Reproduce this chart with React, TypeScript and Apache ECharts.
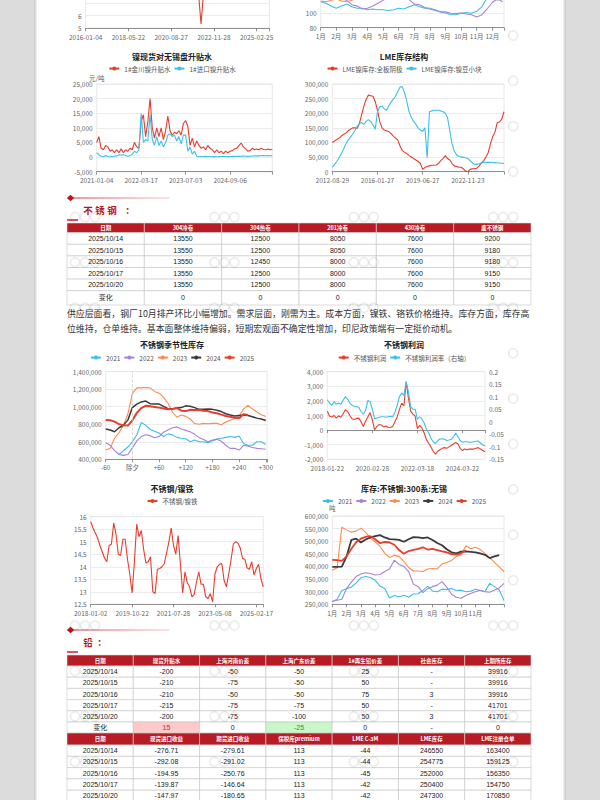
import React, { useEffect, useRef } from 'react';
import * as echarts from 'echarts';

const FONT = '"Noto Sans CJK SC", "Noto Sans", sans-serif';
const NUM_FONT = 'Arial, "Liberation Sans", "Noto Sans CJK SC", sans-serif';
const C_RED = '#e83d2c';
const C_CYAN = '#3ac0ea';
const C_PURPLE = '#a882d8';
const C_ORANGE = '#ff8a4c';
const C_BLACK = '#3a3a3a';
const AXIS = '#777777';
const LABEL = '#666666';
const SPLIT = '#e6e6e6';
const X_MARGIN = 5;

// ---------- chart A (top-left, cut off) ----------
const aTicks = ['2016-01-04', '2018-05-22', '2020-08-27', '2022-11-28', '2025-02-25'];
const aValues = [8.6, 8.9, 9.2, 8.8, 8.4, 8.1, 7.9, 8.3, 8.7, 9.0,
  9.4, 9.1, 8.8, 8.5, 8.2, 8.0, 8.4, 8.9, 9.3, 9.6,
  9.2, 8.8, 8.5, 8.1, 7.8, 8.2, 9.4, 5.35, 9.6, 9.4,
  9.8, 9.5, 9.1, 8.7, 8.4, 8.8, 9.2, 9.0, 8.6, 8.3,
  8.0, 8.2, 8.5, 8.4];

// ---------- chart B (top-right, cut off; x in months, 1/3 month steps) ----------
const bSeries2021 = [116, 114, 110, 107, 110, 113, 109, 107, 107, 105, 106, 105, 105, 104, 105, 107, 106, 109, 112, 109, 107, 106, 104, 102, 100.5, 98, 98, 100, 101, 100, 103, 109, 122, 128, 118, 122];
const bSeries2022 = [130, 128, 125, 122, 120, 118, 112, 110, 106, 107, 110, 114, 118, 122, 125, 124, 122, 119, 113, 112, 108, 107, 105, 102, 102, 100, 99.5, 100.5, 99, 98, 95, 98, 106, 115, 120, 116];
const bSeries2023 = [117, 116, 118, 120, 117, 116, 118, 122, 126, 128, 130, 132, 135, 138, 140, 138, 136, 135, 133, 130, 128, 127, 126, 128, 130, 132, 130, 128, 126, 125, 127, 130, 133, 136, 140, 142];

// ---------- chart C: 镍现货对无锡盘升贴水 ----------
const cTicks = ['2021-01-04', '2022-03-17', '2023-07-03', '2024-09-06'];
const cJinchuan = [5000, 7000, 3000, 2500, 4000, 3500, 2000, 2500, 1500, 2500, 1500, 2800, 1500, 2500, 2000, 3000, 2500, 5000, 3500, 3000,
  12000, 14500, 7000, 12000, 20000, 10000, 6500, 10000, 7000, 10000, 6000, 9000, 14000, 9000, 7500, 8500, 8000, 9000, 7500, 11500,
  12500, 10500, 4000, 6500, 3500, 5500, 4000, 3000, 3500, 2500, 4000, 3000, 2500, 1500, 2500, 1500, 2000, 1200, 2000, 1500,
  2000, 2200, 2800, 3000, 4000, 4800, 3500, 2800, 2000, 2200, 3000, 2500, 2800, 2500, 3000, 2600, 2500, 2800, 2500, 2600];
const cImport = [1500, 800, 300, 200, 500, 200, 100, 200, 300, 400, 800, 600, 900, 500, 300, 500, 1000, 2000, 1500, 2500,
  15000, 5000, 6000, 5500, 14500, 6000, 4000, 7000, 4000, 5500, 3500, 5000, 7500, 8000, 7000, 7500, 5500, 7000, 4500, 7500,
  7500, 2000, 3500, 1000, 2000, 300, 200, 100, 200, 300, 200, 100, 150, 200, 100, 150, 200, 250, 200, 150,
  200, 250, 300, 200, 250, 300, 350, 300, 250, 300, 350, 400, 450, 400, 450, 500, 450, 500, 450, 500];

// ---------- chart D: LME库存结构 ----------
const dTicks = ['2012-08-29', '2016-01-27', '2019-06-27', '2022-11-23'];
const dCathode = [100000, 105000, 110000, 115000, 122000, 127000, 132000, 140000, 145000, 150000,
  150000, 148000, 165000, 195000, 225000, 248000, 262000, 260000, 258000, 240000,
  210000, 172000, 150000, 143000, 140000, 137000, 130000, 122000, 115000, 108000,
  88000, 72000, 66000, 62000, 55000, 50000, 45000, 40000, 35000, 28000,
  8000, 15000, 18000, 20000, 22000, 22000, 23000, 28000, 38000, 45000,
  55000, 45000, 40000, 28000, 20000, 18000, 15000, 15000, 10000, 2000,
  0, 8000, 10000, 10000, 12000, 20000, 30000, 38000, 50000, 65000,
  95000, 120000, 135000, 168000, 170000, 180000, 205000];
const dBriquette = [15000, 25000, 35000, 48000, 62000, 78000, 95000, 108000, 118000, 128000,
  140000, 155000, 165000, 168000, 162000, 172000, 178000, 172000, 160000, 145000,
  205000, 222000, 225000, 215000, 210000, 225000, 238000, 248000, 258000, 275000,
  290000, 290000, 270000, 240000, 205000, 185000, 172000, 162000, 150000, 142000,
  138000, 150000, 48000, 205000, 208000, 210000, 210000, 210000, 208000, 205000,
  200000, 185000, 140000, 95000, 70000, 58000, 52000, 50000, 50000, 48000,
  45000, 38000, 30000, 25000, 25000, 27000, 30000, 32000, 32000, 32000,
  32000, 31000, 31000, 30000, 30000, 29000, 28000];

// ---------- chart E: 不锈钢季节性库存 (days from 除夕) ----------
const eDays = [-60, -50, -40, -30, -20, -10, 0, 10, 20, 30, 40, 50, 60, 70, 80, 90, 100, 110, 120, 130, 140, 150, 160, 170, 180, 190, 200, 210, 220, 230, 240, 250, 260, 270, 280, 290, 300];
const e2021 = [null, null, null, 455000, 500000, 540000, 600000, 680000, 820000, 790000, 740000, 720000, 700000, 660000, 690000, 680000, 650000, 640000, 635000, 600000, 620000, 600000, 600000, 590000, 610000, 630000, 640000, 650000, 660000, 650000, 665000, 580000, 560000, 560000, 600000, 600000, 570000];
const e2022 = [590000, 560000, 500000, 455000, 445000, 455000, 530000, 610000, 660000, 680000, 670000, 645000, 660000, 710000, 735000, 760000, 770000, 745000, 730000, 715000, 685000, 650000, 625000, 600000, 620000, 630000, 605000, 560000, 525000, 525000, 505000, 560000, 550000, 535000, 525000, 520000, 515000];
const e2023 = [505000, 525000, 640000, 705000, 790000, 920000, 1150000, 1215000, 1215000, 1220000, 1215000, 1175000, 1155000, 1110000, 1040000, 940000, 880000, 905000, 890000, 860000, 808000, 800000, 810000, 805000, 810000, 810000, 795000, 825000, 845000, 865000, 895000, 975000, 1015000, 975000, 940000, 908000, 888000];
const e2024 = [745000, 735000, 715000, 760000, 790000, 850000, 990000, 1030000, 1055000, 1065000, 1035000, 1030000, 1030000, 1005000, 978000, 975000, 985000, 990000, 1010000, 1005000, 990000, 970000, 970000, 975000, 970000, 960000, 945000, 920000, 905000, 895000, 900000, 905000, 900000, 885000, 870000, 860000, 842000];
const e2025 = [850000, 845000, 830000, 800000, 790000, 785000, 845000, 930000, 985000, 1010000, 1005000, 998000, 990000, 980000, 970000, 975000, 985000, 955000, 950000, 965000, 962000, 965000, 955000, 950000, 935000, 925000, 910000, 895000, 885000, 875000, 870000, 915000, 905000, null, null, null, null];

// ---------- chart F: 不锈钢利润 ----------
const fTicks = ['2018-01-22', '2020-02-28', '2022-03-18', '2024-03-22'];
const fProfit = [1300, 950, 900, 1000, 820, 980, 880, 1100, 1400, 1280,
  1000, 780, 720, 800, 820, 560, 250, 600, 900, 1200,
  700, 20, 250, 380, 350, 220, 280, 200, 180, 250,
  570, 900, 1400, 1850, 1650, 3300, 2200, 1300, 1100, 950,
  100, 330, 150, -200, -650, -900, -1150, -1450, -1650, -1450,
  -1350, -1250, -1200, -1250, -1150, -1050, -950, -850, -950, -1250,
  -1400, -1300, -1350, -1300, -1300, -1300, -1250, -1200, -1300, -1400, -1480];
const fMargin = [0.088, 0.075, 0.065, 0.08, 0.07, 0.075, 0.07, 0.085, 0.1, 0.09,
  0.075, 0.065, 0.062, 0.06, 0.058, 0.04, 0.03, 0.045, 0.085, 0.08,
  0.05, 0.012, 0.015, 0.018, 0.02, 0.02, 0.018, 0.02, 0.022, 0.02,
  0.037, 0.065, 0.1, 0.115, 0.105, 0.16, 0.12, 0.06, 0.05, 0.05,
  0.01, 0.02, 0.01, -0.005, -0.03, -0.045, -0.065, -0.08, -0.087, -0.075,
  -0.069, -0.068, -0.07, -0.075, -0.073, -0.07, -0.06, -0.045, -0.06, -0.075,
  -0.082, -0.08, -0.08, -0.082, -0.082, -0.08, -0.078, -0.077, -0.085, -0.093, -0.096];

// ---------- chart G: 不锈钢/镍铁 ----------
const gTicks = ['2018-01-02', '2019-10-22', '2021-07-28', '2023-05-08', '2025-02-17'];
const gRatio = [15.8, 15.55, 15.35, 15.15, 14.85, 14.6, 14.35, 14.2, 14.85, 14.9,
  15.75, 15.3, 14.5, 14.45, 15.1, 15.1, 14.3, 13.7, 12.95, 14.2,
  15.7, 15.2, 15.45, 14.7, 14.15, 14.2, 14.4, 13.0, 12.93, 13.9,
  13.93, 14.0, 14.13, 14.55, 15.0, 15.55, 14.85, 14.5, 15.25, 14.1,
  12.95, 13.8, 13.35, 13.2, 12.8, 12.9, 13.4, 13.8, 13.3, 13.3,
  12.8, 12.73, 12.93, 12.6, 13.7, 14.0, 14.1, 14.13, 13.45, 13.2,
  13.7, 14.27, 14.9, 15.0, 14.95, 14.75, 14.33, 14.3, 13.95, 13.9,
  14.2, 13.67, 13.93, 14.1, 13.53, 13.2];

// ---------- chart H: 库存:不锈钢:300系:无锡 (x in months, 1/3 month steps) ----------
const h2021 = [260000, 270000, 305000, 312000, 318000, 335000, 355000, 360000, 356000, 345000, 322000, 313000, 275000, 285000, 280000, 286000, 278000, 291000, 292000, 305000, 322000, 303000, 300000, 310000, 308000, 313000, 305000, 306000, 300000, 302000, 310000, 305000, 300000, 333000, 320000, 307000, 265000];
const h2022 = [262000, 266000, 270000, 313000, 338000, 360000, 370000, 375000, 372000, 366000, 368000, 380000, 390000, 425000, 408000, 400000, 380000, 330000, 320000, 296000, 312000, 320000, 326000, 340000, 318000, 290000, 278000, 274000, 285000, 293000, 300000, 306000, 300000, 298000, 307000, 315000, 333000];
const h2023 = [385000, 395000, 555000, 545000, 536000, 540000, 552000, 535000, 512000, 498000, 480000, 452000, 435000, 444000, 440000, 420000, 396000, 382000, 382000, 380000, 390000, 392000, 390000, 410000, 416000, 424000, 440000, 445000, 482000, 470000, 476000, 468000, 452000, 435000, 416000, 398000, 380000];
const h2024 = [398000, 398000, 399000, 440000, 505000, 510000, 495000, 507000, 515000, 520000, 524000, 515000, 508000, 507000, 505000, 498000, 508000, 516000, 515000, 512000, 515000, 505000, 493000, 484000, 468000, 456000, 452000, 459000, 460000, 458000, 456000, 452000, 446000, 433000, 440000, 445000, null];
const h2025 = [426000, 425000, 422000, 440000, 470000, 496000, 510000, 517000, 520000, 508000, 492000, 497000, 495000, 486000, 465000, 450000, 461000, 466000, 470000, 476000, 467000, 470000, 465000, 460000, 456000, 449000, 447000, 452000, 464000, null, null, null, null, null, null, null, null];

const seasonYears = ['2021', '2022', '2023', '2024', '2025'];
const seasonColors = [C_CYAN, C_PURPLE, C_ORANGE, C_BLACK, C_RED];
const seasonWidths = [1.1, 1.1, 1.1, 1.5, 2];

// ---------- tables ----------
const stainlessHeaders = ['日期', '304冷卷', '304热卷', '201冷卷', '430冷卷', '废不锈钢'];
const stainlessDates = ['2025/10/14', '2025/10/15', '2025/10/16', '2025/10/17', '2025/10/20'];
const stainless304Cold = [13550, 13550, 13550, 13550, 13550];
const stainless304Hot = [12500, 12500, 12450, 12500, 12500];
const stainless201Cold = [8050, 8050, 8000, 8000, 8000];
const stainless430Cold = [7600, 7600, 7600, 7600, 7600];
const stainlessScrap = [9200, 9180, 9180, 9150, 9150];
const stainlessChange = ['变化', '0', '0', '0', '0', '0'];

const stainlessText1 = '供应层面看，钢厂10月排产环比小幅增加。需求层面，刚需为主。成本方面，镍铁、铬铁价格维持。库存方面，库存高';
const stainlessText2 = '位维持，仓单维持。基本面整体维持偏弱，短期宏观面不确定性增加，印尼政策端有一定挺价动机。';

const leadHeaders1 = ['日期', '现货升贴水', '上海河南价差', '上海广东价差', '1#再生铅价差', '社会库存', '上期所库存'];
const leadDates = ['2025/10/14', '2025/10/15', '2025/10/16', '2025/10/17', '2025/10/20'];
const leadSpotSpread = [-200, -210, -210, -215, -200];
const leadHenanSpread = [-50, -75, -50, -75, -75];
const leadGuangdongSpread = [-50, -50, -50, -75, -100];
const leadRecycledSpread = [25, 50, 75, 50, 50];
const leadSocialStock = ['-', '-', '3', '-', '3'];
const leadShfeStock = [39916, 39916, 39916, 41701, 41701];
const leadChange = ['变化', '15', '0', '-25', '0', '-', '0'];

const leadHeaders2 = ['日期', '现货进口收益', '期货进口收益', '保税库premium', 'LME C-3M', 'LME库存', 'LME注册仓单'];
const leadSpotImport = ['-276.71', '-292.08', '-194.95', '-139.87', '-147.97'];
const leadFuturesImport = ['-279.61', '-291.02', '-250.76', '-146.64', '-180.65'];
const leadBondedPremium = [113, 113, 113, 113, 113];
const leadLmeC3M = [-44, -44, -45, -42, -42];
const leadLmeStock = [246550, 254775, 252000, 250400, 247300];
const leadLmeWarrant = [163400, 159125, 156350, 154750, 170850];

// ---------- helpers ----------
const byIndex = (arr: any[]) => arr.map((v, i) => [i, v]).filter((p) => p[1] !== null);
const byThird = (arr: any[]) => arr.map((v, i) => [1 + i / 3, v]).filter((p) => p[1] !== null);
const byDays = (arr: any[]) => arr.map((v, i) => [eDays[i], v]).filter((p) => p[1] !== null);

const labelStyle = { fontSize: 6.5, color: LABEL, fontFamily: FONT };

function idxAxis(count: number, step: number, labels: string[], extra: any = {}) {
  return {
    type: 'value',
    min: 0,
    max: count - 1,
    interval: step,
    axisLine: { show: true, onZero: false, lineStyle: { color: AXIS, width: 0.8 } },
    axisTick: { show: true, length: 3, lineStyle: { color: AXIS, width: 0.8 } },
    splitLine: { show: false },
    axisLabel: {
      ...labelStyle,
      margin: X_MARGIN,
      showMinLabel: true,
      showMaxLabel: true,
      formatter: (v: number) => (v % step === 0 && labels[v / step] !== undefined ? labels[v / step] : ''),
    },
    ...extra,
  };
}

function valY(min: number, max: number, interval: number, extra: any = {}) {
  return {
    type: 'value',
    min,
    max,
    interval,
    axisLine: { show: false },
    axisTick: { show: false },
    splitLine: { show: true, lineStyle: { color: SPLIT, width: 0.8 } },
    axisLabel: { ...labelStyle, margin: 4 },
    ...extra,
  };
}

function grid(left: number, right: number, top: number, bottom: number) {
  return { left, right, top, bottom, show: true, borderColor: '#e2e2e2', borderWidth: 0.8 };
}

function ln(name: string, data: any[], color: string, width = 1.1, extra: any = {}) {
  return {
    type: 'line',
    name,
    data,
    color,
    symbol: 'circle',
    symbolSize: 4,
    showSymbol: false,
    lineStyle: { width, color },
    itemStyle: { color },
    ...extra,
  };
}

function title(text: string, top: number) {
  return { text, left: 'center', top, padding: 0, textStyle: { fontSize: 8, fontWeight: 'bold', color: '#222', fontFamily: FONT } };
}

function legend(top: number, data: string[]) {
  return {
    top,
    left: 'center',
    padding: 0,
    itemWidth: 10,
    itemHeight: 5,
    itemGap: 3,
    data,
    textStyle: { fontSize: 6.5, color: '#555', fontFamily: FONT },
  };
}

// ---------- options ----------
const optA = {
  animation: false,
  backgroundColor: '#ffffff',
  grid: grid(16, 3, 65.3, 16.7),
  xAxis: idxAxis(aValues.length, 10, aTicks),
  yAxis: valY(5, 10, 1, { axisLabel: { ...labelStyle, margin: 4, formatter: (v: number) => (v <= 6 ? String(v) : '') } }),
  series: [ln('比值', byIndex(aValues), C_RED, 1.1)],
};

const monthAxis = (maxV: number, lastLabel: number) => ({
  type: 'value',
  min: 1,
  max: maxV,
  interval: 1,
  axisLine: { show: true, onZero: false, lineStyle: { color: AXIS, width: 0.8 } },
  axisTick: { show: true, length: 3, lineStyle: { color: AXIS, width: 0.8 } },
  splitLine: { show: false },
  axisLabel: {
    ...labelStyle,
    margin: X_MARGIN,
    showMinLabel: true,
    formatter: (v: number) => (Number.isInteger(v) && v <= lastLabel ? v + '月' : ''),
  },
});

const optB = {
  animation: false,
  backgroundColor: '#ffffff',
  grid: grid(20.7, 4, 55.7, 17.3),
  xAxis: monthAxis(12.75, 12),
  yAxis: valY(80, 180, 20, { axisLabel: { ...labelStyle, margin: 4, formatter: (v: number) => (v <= 100 ? String(v) : '') } }),
  series: [
    ln('2021', byThird(bSeries2021), C_CYAN),
    ln('2022', byThird(bSeries2022), C_PURPLE),
    ln('2023', byThird(bSeries2023), C_ORANGE),
  ],
};

const optC = {
  animation: false,
  backgroundColor: '#ffffff',
  title: title('镍现货对无锡盘升贴水', 7.8),
  legend: legend(20.3, ['1#金川镍升贴水', '1#进口镍升贴水']),
  grid: grid(28.7, 3.7, 39, 23.3),
  xAxis: idxAxis(cJinchuan.length, 20, cTicks),
  yAxis: valY(-5000, 25000, 5000, {
    name: '元/吨',
    nameLocation: 'end',
    nameGap: 2.5,
    nameTextStyle: { fontSize: 6.5, color: LABEL, fontFamily: FONT },
  }),
  series: [
    ln('1#金川镍升贴水', byIndex(cJinchuan), C_RED),
    ln('1#进口镍升贴水', byIndex(cImport), C_CYAN),
  ],
};

const optD = {
  animation: false,
  backgroundColor: '#ffffff',
  title: title('LME库存结构', 7.2),
  legend: legend(20.3, ['LME镍库存:全板阴极', 'LME镍库存:镍豆小块']),
  grid: grid(32.3, 4, 39, 23.3),
  xAxis: idxAxis(dCathode.length, 20, dTicks),
  yAxis: valY(0, 300000, 50000),
  series: [
    ln('LME镍库存:全板阴极', byIndex(dCathode), C_RED),
    ln('LME镍库存:镍豆小块', byIndex(dBriquette), C_CYAN),
  ],
};

const optE = {
  animation: false,
  backgroundColor: '#ffffff',
  title: title('不锈钢季节性库存', 6.5),
  legend: legend(20.3, seasonYears),
  grid: grid(37.7, 3.7, 37.7, 15.7),
  xAxis: {
    type: 'value',
    min: -60,
    max: 303,
    interval: 60,
    axisLine: { show: true, onZero: false, lineStyle: { color: AXIS, width: 0.8 } },
    axisTick: { show: true, length: 3, lineStyle: { color: AXIS, width: 0.8 } },
    splitLine: { show: false },
    axisLabel: {
      ...labelStyle,
      margin: 4,
      showMinLabel: true,
      formatter: (v: number) => (v === 0 ? '除夕' : v % 60 !== 0 ? '' : v < 0 ? String(v) : '+' + v),
    },
  },
  yAxis: valY(400000, 1400000, 200000),
  series: [e2021, e2022, e2023, e2024, e2025].map((arr, i) =>
    ln(seasonYears[i], byDays(arr), seasonColors[i], seasonWidths[i], i === 0 ? {
      markLine: {
        silent: true,
        symbol: 'none',
        label: { show: false },
        lineStyle: { type: 'dashed', color: '#cfcfcf', width: 0.8 },
        data: [{ xAxis: 0 }],
      },
    } : {})
  ),
};

const optF = {
  animation: false,
  backgroundColor: '#ffffff',
  title: title('不锈钢利润', 6.5),
  legend: legend(20.3, ['不锈钢利润', '不锈钢利润率（右轴）']),
  grid: grid(27.3, 23, 37.7, 15.7),
  xAxis: [
    idxAxis(fProfit.length, 20, fTicks, {
      axisLine: { show: true, onZero: true, lineStyle: { color: AXIS, width: 0.8 } },
      axisLabel: { show: false },
    }),
    idxAxis(fProfit.length, 20, fTicks, {
      position: 'bottom',
      axisLine: { show: false, onZero: false },
      axisTick: { show: false },
    }),
  ],
  yAxis: [
    valY(-2000, 4000, 1000),
    valY(-0.15, 0.2, 0.05, { position: 'right', splitLine: { show: false } }),
  ],
  series: [
    ln('不锈钢利润', byIndex(fProfit), C_RED, 1.1, { xAxisIndex: 0, yAxisIndex: 0 }),
    ln('不锈钢利润率（右轴）', byIndex(fMargin), C_CYAN, 1.1, { xAxisIndex: 0, yAxisIndex: 1 }),
  ],
};

const optG = {
  animation: false,
  backgroundColor: '#ffffff',
  title: title('不锈钢/镍铁', 9.5),
  legend: legend(22.7, ['不锈钢/镍铁']),
  grid: grid(22.7, 3.7, 41.7, 15.7),
  xAxis: idxAxis(gRatio.length, 18, gTicks),
  yAxis: valY(12.5, 16, 0.5),
  series: [ln('不锈钢/镍铁', byIndex(gRatio), C_RED, 1.1)],
};

const optH = {
  animation: false,
  backgroundColor: '#ffffff',
  title: title('库存:不锈钢:300系:无锡', 9.5),
  legend: legend(22.7, seasonYears),
  grid: grid(32.3, 4, 41, 15.7),
  xAxis: monthAxis(13, 11),
  yAxis: valY(250000, 600000, 50000, {
    name: '吨',
    nameLocation: 'end',
    nameGap: 4.5,
    nameTextStyle: { fontSize: 6.5, color: LABEL, fontFamily: FONT },
  }),
  series: [h2021, h2022, h2023, h2024, h2025].map((arr, i) =>
    ln(seasonYears[i], byThird(arr), seasonColors[i], i >= 3 ? 1.8 : 1.1)
  ),
};

// ---------- page graphics ----------
function txt(x: number, y: number, text: string, size: number, fill: string, opts: any = {}) {
  const align = opts.align || 'center';
  return {
    type: 'text',
    x,
    y,
    style: {
      text,
      fill,
      fontSize: size,
      fontFamily: opts.font || FONT,
      fontWeight: opts.weight || 'normal',
      align,
      verticalAlign: 'middle',
      textAlign: align,
      textVerticalAlign: 'middle',
    },
  };
}

function buildTable(x: number, y: number, width: number, headers: string[], rows: string[][], headH: number, rowH: number, lastH: number, hl: any = {}) {
  const els: any[] = [];
  const cw = width / headers.length;
  headers.forEach((h, i) => {
    els.push({ type: 'rect', shape: { x: x + i * cw, y, width: cw, height: headH }, style: { fill: '#b71c24', stroke: '#dcdcdc', lineWidth: 0.6 } });
    els.push(txt(x + i * cw + cw / 2, y + headH / 2, h, 5.5, '#ffffff', { weight: 'bold' }));
  });
  let cy = y + headH;
  rows.forEach((row, r) => {
    const h = r === rows.length - 1 && lastH ? lastH : rowH;
    row.forEach((cell, i) => {
      const mark = hl[r + ':' + i];
      els.push({ type: 'rect', shape: { x: x + i * cw, y: cy, width: cw, height: h }, style: { fill: mark ? mark.bg : '#ffffff', stroke: '#c4c4c4', lineWidth: 0.6 } });
      els.push(txt(x + i * cw + cw / 2, cy + h / 2, cell, 7, mark ? mark.color : '#222222', { font: NUM_FONT }));
    });
    cy += h;
  });
  return els;
}

function sectionHeader(y: number, chars: string[], xs: number[]) {
  const els: any[] = [];
  els.push({
    type: 'rect',
    shape: { x: 73, y: y - 0.5, width: 97, height: 1 },
    style: { fill: new echarts.graphic.LinearGradient(0, 0, 1, 0, [{ offset: 0, color: '#d23a44' }, { offset: 1, color: '#f3c9cc' }]) },
  });
  els.push({ type: 'polygon', shape: { points: [[66.8, y], [70.5, y - 3.2], [74.2, y], [70.5, y + 3.2]] }, style: { fill: '#c0141c' } });
  chars.forEach((c, i) => els.push(txt(xs[i], y + 11.6, c, 9.5, '#c0141c', { weight: 'bold' })));
  els.push({ type: 'rect', shape: { x: 67, y: y + 21.3, width: 11, height: 1.4 }, style: { fill: '#c0141c' } });
  return els;
}

// faint logo rings of the page watermark (no text, so nothing overlaps the real texts)
function watermark(x0: number, y0: number) {
  const ink = 'rgba(0,0,0,0.07)';
  return [5, 15, 25].map((dx) => ({ type: 'circle', shape: { cx: x0 + dx, cy: y0, r: 4.6 }, style: { fill: 'none', stroke: ink, lineWidth: 1.8 } }));
}

const stainlessRows = stainlessDates.map((d, i) => [d, stainless304Cold[i], stainless304Hot[i], stainless201Cold[i], stainless430Cold[i], stainlessScrap[i]].map(String));
const leadRows1 = leadDates.map((d, i) => [d, leadSpotSpread[i], leadHenanSpread[i], leadGuangdongSpread[i], leadRecycledSpread[i], leadSocialStock[i], leadShfeStock[i]].map(String));
const leadRows2 = leadDates.map((d, i) => [d, leadSpotImport[i], leadFuturesImport[i], leadBondedPremium[i], leadLmeC3M[i], leadLmeStock[i], leadLmeWarrant[i]].map(String));

function pageElements() {
  const els: any[] = [];
  els.push({ type: 'rect', shape: { x: 0, y: 0, width: 600, height: 800 }, style: { fill: '#ffffff' } });

  els.push(...sectionHeader(198, ['不', '锈', '钢', '：'], [88, 100, 112, 130]));
  els.push(...buildTable(67, 223, 464, stainlessHeaders, [...stainlessRows, stainlessChange], 9.7, 11.6, 14.3));
  els.push(txt(67, 313, stainlessText1, 8.9, '#333333', { align: 'left' }));
  els.push(txt(67, 328.5, stainlessText2, 8.9, '#333333', { align: 'left' }));

  els.push(...sectionHeader(630, ['铅', '：'], [88, 102]));
  els.push(...buildTable(67, 655, 464, leadHeaders1, [...leadRows1, leadChange], 11, 11.2, 11, {
    '5:1': { bg: '#ffc9cc', color: '#e0201c' },
    '5:3': { bg: '#c9f7c9', color: '#22a022' },
  }));
  els.push(...buildTable(67, 733, 464, leadHeaders2, leadRows2, 12, 11.3, 0));

  for (let r = -4; r <= 12; r++) {
    for (let c = 0; c < 4; c++) {
      els.push(...watermark(70 + c * 139.4, 217 + r * 45.4));
    }
  }

  els.push({ type: 'rect', shape: { x: 0, y: 0, width: 34, height: 800 }, style: { fill: '#dcdcdc' } });
  els.push({ type: 'rect', shape: { x: 34, y: 0, width: 3, height: 800 }, style: { fill: new echarts.graphic.LinearGradient(0, 0, 1, 0, [{ offset: 0, color: '#c6c6c6' }, { offset: 1, color: '#f6f6f6' }]) } });
  els.push({ type: 'rect', shape: { x: 563, y: 0, width: 3, height: 800 }, style: { fill: new echarts.graphic.LinearGradient(0, 0, 1, 0, [{ offset: 0, color: '#f6f6f6' }, { offset: 1, color: '#c6c6c6' }]) } });
  els.push({ type: 'rect', shape: { x: 566, y: 0, width: 34, height: 800 }, style: { fill: '#dcdcdc' } });
  return els;
}

const optPage = { animation: false, graphic: { elements: pageElements() } };

function Chart({ option, left, top, width, height, z }: any) {
  const ref = useRef<HTMLDivElement>(null);
  useEffect(() => {
    const chart = echarts.init(ref.current as HTMLDivElement, undefined, { renderer: 'svg' });
    chart.setOption(option);
    return () => chart.dispose();
  }, [option]);
  return <div ref={ref} style={{ position: 'absolute', left, top, width, height, zIndex: z }} />;
}

export default function App() {
  return (
    <div style={{ position: 'fixed', left: 0, top: 0, width: 600, height: 800, overflow: 'hidden', background: '#ffffff' }}>
      <Chart option={optPage} left={0} top={0} width={600} height={800} z={0} />
      <Chart option={optA} left={66} top={-100} width={210} height={145} z={1} />
      <Chart option={optB} left={300} top={-100} width={208} height={145} z={1} />
      <Chart option={optC} left={68} top={45} width={208} height={150} z={1} />
      <Chart option={optD} left={300} top={45} width={208} height={150} z={1} />
      <Chart option={optE} left={68} top={334} width={208} height={141} z={1} />
      <Chart option={optF} left={300} top={334} width={208} height={141} z={1} />
      <Chart option={optG} left={68} top={475} width={208} height={145} z={1} />
      <Chart option={optH} left={300} top={475} width={208} height={145} z={1} />
    </div>
  );
}
